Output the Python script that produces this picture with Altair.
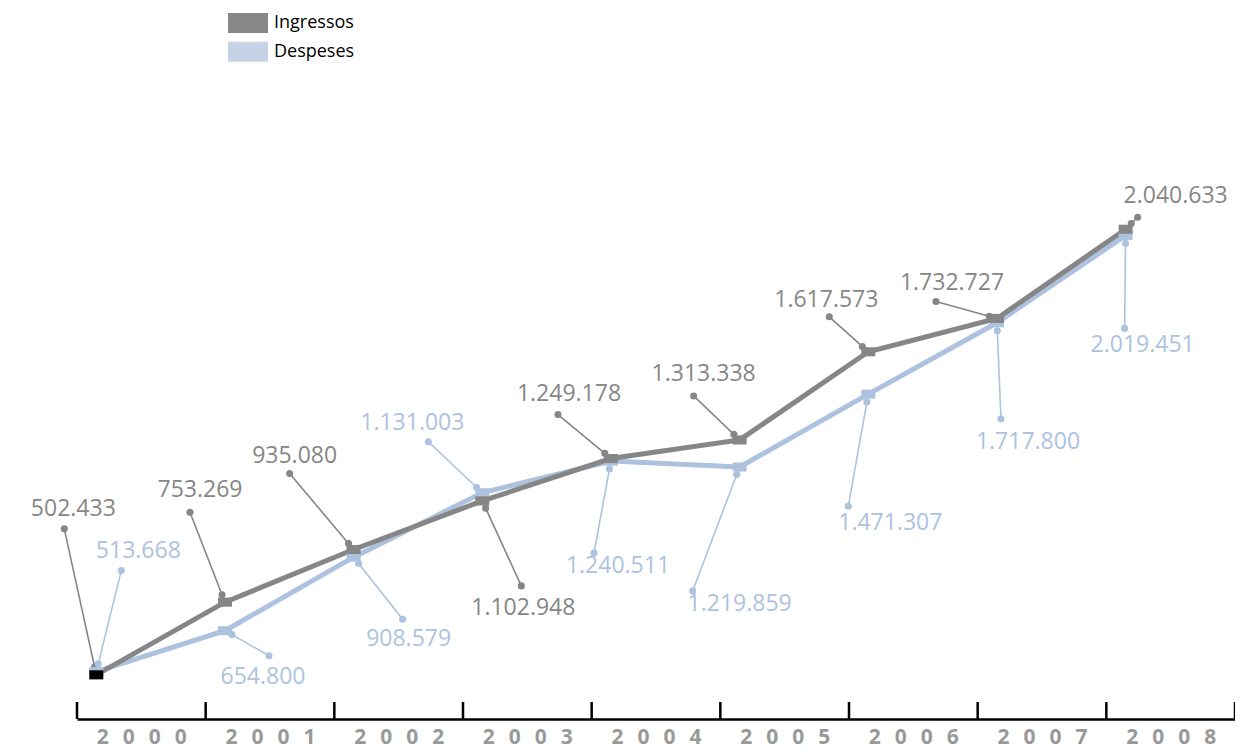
import math
import altair as alt
import pandas as pd

# ---------------- data ----------------
years = [2000, 2001, 2002, 2003, 2004, 2005, 2006, 2007, 2008]
ingressos = [502433, 753269, 935080, 1102948, 1249178, 1313338, 1617573, 1732727, 2040633]
despeses = [513668, 654800, 908579, 1131003, 1240511, 1219859, 1471307, 1717800, 2019451]
series_names = ["Ingressos", "Despeses"]
tick_years = [2000, 2001, 2002, 2003, 2004, 2005, 2006, 2007, 2008, 2009]

# ---------------- callout layout (pixels) ----------------
# offset from the data point to the label dot, and from the label dot to the text centre
ing_leader = [(-32, -146), (-35, -90), (-64, -76), (39, 85), (-53, -44), (-46, -44), (-39, -35), (-61, -17), (12, -12)]
ing_text = [(9, -20), (10, -22), (5, -18), (2, 22), (11, -21), (10, -22), (-3, -17), (16, -18), (38, -21)]
des_leader = [(25, -101), (44, 25), (49, 62), (-54, -51), (-17, 92), (-47, 124), (-20, 112), (4, 96), (-1, 93)]
des_text = [(17, -20), (-6, 21), (6, 20), (-16, -19), (24, 13), (47, 13), (42, 17), (27, 23), (18, 17)]

# ---------------- styling / scales ----------------
W, H = 1158, 646
PAD = {"left": 69, "top": 65, "right": 0, "bottom": 29}
X_DOMAIN = [2000, 2009]
Y_DOMAIN = [350000, 2580000]
X_SHIFT = 0.15  # points sit slightly inside each year band
PX_X = W / (X_DOMAIN[1] - X_DOMAIN[0])
PX_Y = H / (Y_DOMAIN[1] - Y_DOMAIN[0])
GRAY = "#868686"
BLUE = "#adc2df"
LEGEND_COLORS = ["#888888", "#c6d3e7"]
FONT = "Open Sans"


def fmt(v):
    return f"{v:,}".replace(",", ".")


rows = []
callouts = []
for name, vals, lead, txt in [("Ingressos", ingressos, ing_leader, ing_text),
                              ("Despeses", despeses, des_leader, des_text)]:
    for yr, v, (ldx, ldy), (tdx, tdy) in zip(years, vals, lead, txt):
        xp = yr + X_SHIFT
        rows.append({"series": name, "year": yr, "xpos": xp, "value": v})
        dist = math.hypot(ldx, ldy)
        ux, uy = ldx / dist, ldy / dist
        callouts.append({
            "series": name,
            "x_in": xp + 8 * ux / PX_X, "y_in": v - 8 * uy / PX_Y,
            "x_dot": xp + ldx / PX_X, "y_dot": v - ldy / PX_Y,
            "x_txt": xp + (ldx + tdx) / PX_X, "y_txt": v - (ldy + tdy) / PX_Y,
            "label": fmt(v),
        })

pts = pd.DataFrame(rows)
cal = pd.DataFrame(callouts)
ticks = pd.DataFrame({"tick": tick_years})

xs = alt.Scale(domain=X_DOMAIN, nice=False, zero=False)
ys = alt.Scale(domain=Y_DOMAIN, nice=False, zero=False)
cs = alt.Scale(domain=series_names, range=[GRAY, BLUE])
x_axis = alt.Axis(
    values=[y + 0.5 for y in years],
    labelExpr="join(split(format(floor(datum.value), 'd'), ''), '\u2002\u2009')",
    ticks=False, grid=False, domain=True, domainColor="black", domainWidth=2.5,
    labelFont=FONT, labelFontSize=21, labelFontWeight="bold", labelColor="#999999",
    labelPadding=7, labelBaseline="top", title=None,
)


def X(field):
    return alt.X(field, type="quantitative", scale=xs, axis=x_axis, title=None)


def Y(field):
    return alt.Y(field, type="quantitative", scale=ys, axis=None, title=None)


color = alt.Color("series:N", scale=cs, legend=None)

base_pts = alt.Chart(pts)
base_cal = alt.Chart(cal)

line_d = base_pts.transform_filter("datum.series == 'Despeses'").mark_line(strokeWidth=5).encode(
    x=X("xpos"), y=Y("value"), color=color, order="year:Q")
line_i = base_pts.transform_filter("datum.series == 'Ingressos'").mark_line(strokeWidth=5).encode(
    x=X("xpos"), y=Y("value"), color=color, order="year:Q")

leaders = base_cal.mark_rule(strokeWidth=1.6).encode(
    x=X("x_in"), y=Y("y_in"), x2="x_dot", y2="y_dot", color=color)
dots_in = base_cal.mark_circle(size=50, opacity=1).encode(x=X("x_in"), y=Y("y_in"), color=color)
dots_out = base_cal.mark_circle(size=50, opacity=1).encode(x=X("x_dot"), y=Y("y_dot"), color=color)

marker_shape = "M-1,-0.65H1V0.65H-1Z"
marker_color = alt.condition("datum.year == 2000 && datum.series == 'Ingressos'",
                             alt.value("black"), alt.Color("series:N", scale=cs, legend=None))
markers_d = base_pts.transform_filter("datum.series == 'Despeses'").mark_point(
    shape=marker_shape, filled=True, size=196, opacity=1).encode(
    x=X("xpos"), y=Y("value"), color=marker_color)
markers_i = base_pts.transform_filter("datum.series == 'Ingressos'").mark_point(
    shape=marker_shape, filled=True, size=196, opacity=1).encode(
    x=X("xpos"), y=Y("value"), color=marker_color)

labels = base_cal.mark_text(font=FONT, fontSize=23, align="center", baseline="middle").encode(
    x=X("x_txt"), y=Y("y_txt"), text="label:N", color=color)

tick_rules = alt.Chart(ticks).mark_rule(color="black", strokeWidth=2.5).encode(
    x=X("tick"), y=alt.value(H - 17), y2=alt.value(H))

legend_layer = base_pts.mark_point(
    shape="M-2,-1H2V1H-2Z", filled=True, size=0, opacity=1).encode(
    x=X("xpos"), y=Y("value"),
    fill=alt.Fill("series:N", scale=alt.Scale(domain=series_names, range=LEGEND_COLORS),
                  legend=alt.Legend(
                      title=None, orient="none", legendX=161, legendY=-60,
                      symbolType="M-2,-1H2V1H-2Z", symbolSize=400, symbolStrokeWidth=0,
                      symbolOpacity=1, labelFont=FONT, labelFontSize=18, labelColor="black",
                      labelOffset=16, rowPadding=8.7, padding=0)))

chart = alt.layer(
    legend_layer, line_d, line_i, leaders, dots_in, dots_out, markers_d, markers_i, labels, tick_rules
).properties(
    width=W, height=H,
    padding=PAD,
    autosize=alt.AutoSizeParams(type="none"),
    background="white",
).configure_view(stroke=None)

chart.save("out.html", embed_options={"renderer": "svg", "actions": False})
